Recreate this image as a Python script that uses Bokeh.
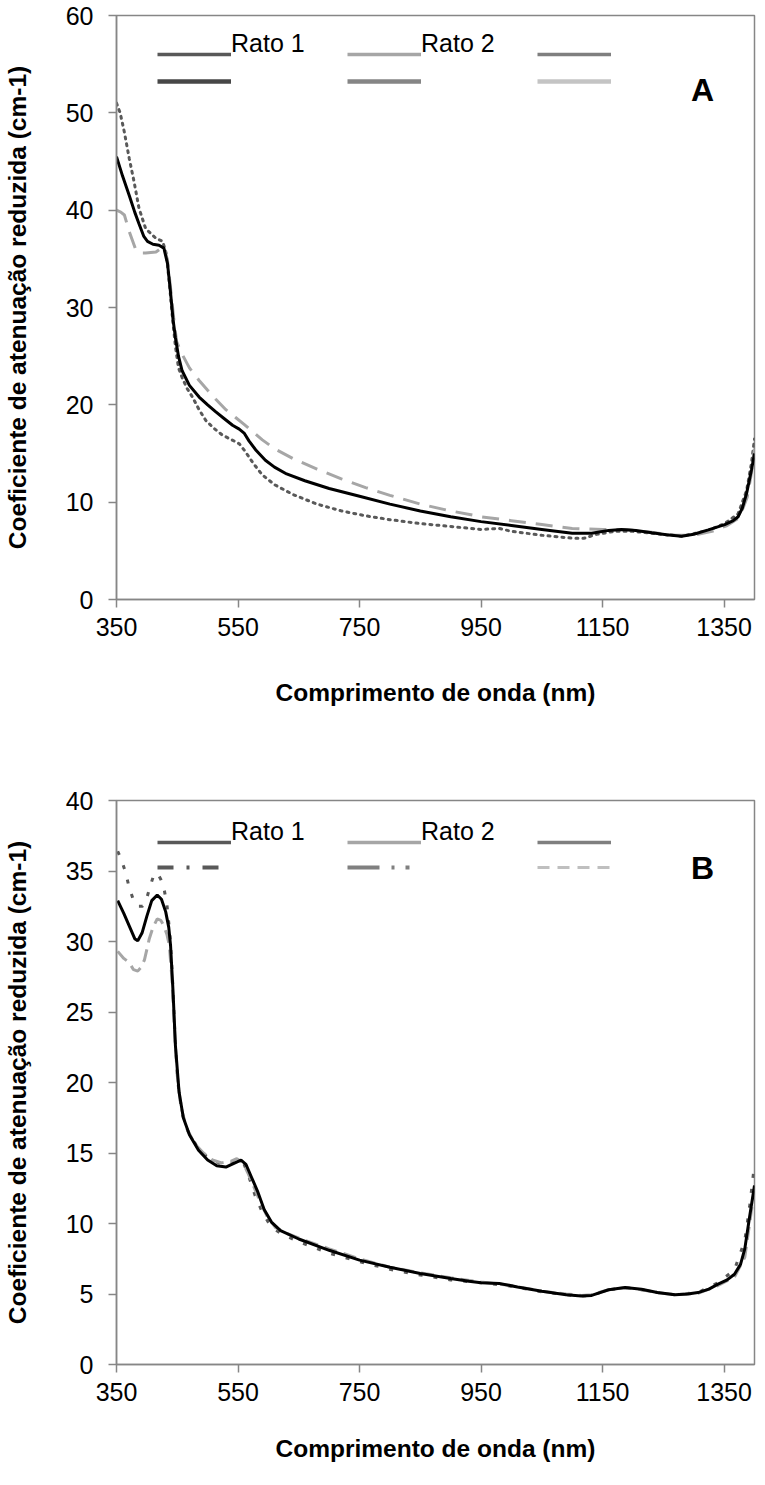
from bokeh.plotting import figure
from bokeh.models import Range1d, FixedTicker, Legend, LegendItem, Label
from bokeh.layouts import column
from bokeh.embed import file_html
from bokeh.resources import INLINE
from bokeh.core.properties import value

FONT = "Liberation Sans"
NAN = float("nan")

# ---------------- data : panel A ----------------
a_solid_x = [350, 360, 371, 380, 387, 395, 401, 410, 420, 428, 434, 439, 443, 447, 452, 458, 470, 486, 500, 513,
             527, 541, 552, 560, 568, 580, 595, 610, 630, 660, 700, 750, 800, 850, 900, 950, 1000, 1050, 1100,
             1132, 1160, 1181, 1205, 1231, 1255, 1280, 1300, 1324, 1351, 1365, 1373, 1380, 1387, 1395, 1400]
a_solid_y = [45.5, 43.5, 41.5, 39.8, 38.6, 37.3, 36.8, 36.5, 36.4, 36.1, 34.5, 31.5, 28.8, 26.9, 25.0, 23.5, 22.0,
             20.8, 20.0, 19.3, 18.6, 17.9, 17.5, 17.1, 16.3, 15.3, 14.3, 13.6, 12.9, 12.2, 11.4, 10.6, 9.8, 9.1,
             8.5, 8.0, 7.6, 7.2, 6.8, 6.8, 7.1, 7.2, 7.1, 6.85, 6.65, 6.5, 6.7, 7.15, 7.7, 8.1, 8.5, 9.4, 10.9,
             13.3, 15.0]

a_dot_x = [350, 356, 363, 371, 379, 387, 398, 415, 426, 432, 437, 442, 447, 452, 458, 466, 475, 486, 497, 510,
           524, 540, 552, 562, 575, 590, 610, 640, 680, 720, 760, 800, 850, 900, 950, 980, 1000, 1050, 1100,
           1120, 1140, 1170, 1200, 1231, 1280, 1324, 1351, 1373, 1387, 1395, 1400]
a_dot_y = [51.0, 50.0, 48.0, 45.3, 42.9, 40.2, 38.1, 37.1, 36.8, 35.5, 32.5, 29.0, 26.0, 23.8, 22.8, 21.7, 20.8,
           19.5, 18.4, 17.6, 16.9, 16.4, 16.0, 15.2, 14.0, 12.8, 11.8, 10.8, 9.8, 9.1, 8.6, 8.2, 7.8, 7.5, 7.2,
           7.3, 7.0, 6.6, 6.3, 6.3, 6.7, 7.0, 7.0, 6.8, 6.5, 7.1, 7.8, 8.8, 11.2, 14.0, 16.5]

a_dash_x = [350, 357, 363, 371, 382, 390, 398, 415, 428, 434, 439, 444, 449, 458, 470, 486, 500, 513, 530, 546,
            560, 575, 590, 610, 640, 680, 720, 760, 800, 850, 900, 950, 1000, 1050, 1100, 1150, 1190, 1230, 1270,
            1300, 1330, 1355, 1375, 1388, 1395, 1400]
a_dash_y = [40.0, 39.8, 39.5, 37.8, 35.9, 35.6, 35.6, 35.7, 36.3, 34.8, 32.0, 29.0, 26.5, 25.2, 23.8, 22.5, 21.5,
            20.6, 19.5, 18.7, 18.0, 17.2, 16.4, 15.5, 14.5, 13.4, 12.4, 11.5, 10.7, 9.8, 9.1, 8.5, 8.1, 7.7, 7.3,
            7.2, 7.2, 6.9, 6.6, 6.6, 7.0, 7.6, 8.4, 10.5, 13.0, 15.5]

# ---------------- data : panel B ----------------
b_solid_x = [352, 362, 372, 380, 385, 392, 400, 408, 417, 424, 431, 436, 439, 443, 447, 453, 460, 470, 485, 500,
             515, 530, 545, 555, 563, 572, 582, 593, 605, 620, 650, 700, 750, 800, 850, 900, 930, 950, 980, 1010,
             1050, 1090, 1115, 1132, 1160, 1187, 1214, 1240, 1269, 1290, 1307, 1325, 1340, 1355, 1367, 1377,
             1384, 1392, 1400]
b_solid_y = [32.9, 32.0, 31.0, 30.2, 30.05, 30.6, 31.8, 32.9, 33.3, 33.0, 32.1, 31.0, 29.7, 26.5, 22.6, 19.3, 17.5,
             16.3, 15.2, 14.5, 14.1, 14.0, 14.3, 14.5, 14.2, 13.3, 12.3, 11.0, 10.1, 9.5, 8.9, 8.1, 7.4, 6.9,
             6.45, 6.1, 5.9, 5.8, 5.75, 5.5, 5.2, 4.95, 4.85, 4.9, 5.3, 5.46, 5.34, 5.1, 4.94, 5.0, 5.1, 5.35,
             5.7, 6.0, 6.4, 7.1, 8.2, 10.5, 12.7]

b_dot_x = [352, 358, 365, 371, 379, 386, 393, 400, 406, 412, 418, 423, 428, 433, 438, 442, 446, 451, 458, 468,
           482, 497, 512, 527, 540, 552, 560, 568, 578, 590, 604, 620, 650, 700, 750, 800, 850, 900, 950, 1000,
           1050, 1090, 1115, 1132, 1160, 1187, 1214, 1240, 1269, 1307, 1340, 1367, 1384, 1392, 1400]
b_dot_y = [36.4, 35.8, 34.9, 33.8, 32.8, 32.5, 32.5, 33.1, 34.0, 34.8, 34.8, 34.4, 33.8, 32.6, 30.5, 27.5, 23.5,
           20.0, 17.8, 16.5, 15.5, 14.8, 14.4, 14.2, 14.3, 14.5, 14.2, 13.3, 12.0, 10.8, 9.8, 9.3, 8.7, 7.9,
           7.3, 6.75, 6.35, 6.0, 5.8, 5.55, 5.15, 4.95, 4.85, 4.9, 5.3, 5.45, 5.3, 5.1, 4.95, 5.1, 5.8, 6.7,
           8.8, 11.2, 14.2]

b_dash_x = [352, 362, 371, 378, 385, 391, 396, 404, 410, 417, 423, 428, 433, 437, 441, 445, 450, 456, 465, 478,
            493, 508, 523, 538, 548, 558, 566, 575, 586, 598, 612, 630, 660, 700, 750, 800, 850, 900, 950, 1000,
            1050, 1090, 1115, 1132, 1160, 1187, 1214, 1240, 1269, 1307, 1340, 1367, 1384, 1392, 1400]
b_dash_y = [29.3, 28.8, 28.5, 28.0, 27.9, 28.2, 28.7, 30.2, 31.0, 31.6, 31.5, 31.1, 30.5, 29.7, 27.5, 24.0, 20.5,
            18.3, 16.8, 15.7, 15.0, 14.5, 14.3, 14.4, 14.6, 14.3, 13.6, 12.7, 11.6, 10.5, 9.7, 9.3, 8.8, 8.2,
            7.5, 6.9, 6.5, 6.15, 5.85, 5.6, 5.2, 5.0, 4.9, 4.95, 5.3, 5.45, 5.3, 5.1, 4.95, 5.05, 5.6, 6.2,
            7.6, 10.0, 12.5]

x_ticks = [350, 550, 750, 950, 1150, 1350]
a_y_ticks = [0, 10, 20, 30, 40, 50, 60]
b_y_ticks = [0, 5, 10, 15, 20, 25, 30, 35, 40]
legend_labels = ["Rato 1", "Rato 2", ""]
x_title = "Comprimento de onda (nm)"
y_title = "Coeficiente de atenuação reduzida (cm-1)"

AXIS_GRAY = "#868686"


def add_legend_row(p, styles, labels, vy, alpha=1.0):
    items = []
    for (col, w, dash), lab in zip(styles, labels):
        r = p.line([NAN], [NAN], line_color=col, line_width=w, line_dash=dash, line_alpha=alpha)
        items.append(LegendItem(label=value(lab), renderers=[r]))
    leg = Legend(items=items, orientation="horizontal", location=(41, vy),
                 glyph_width=74, glyph_height=40, label_height=40, label_width=116,
                 label_standoff=0, spacing=0, padding=0, margin=0,
                 border_line_color=None, background_fill_alpha=0,
                 label_text_font=FONT, label_text_font_size="25px", label_text_color="black")
    p.add_layout(leg)


def make_panel(letter, ymax, yticks, series, dot_style, dash_style, row2_styles, height, b_top, b_bottom,
               frame_h, row1_off, row2_off, text_off, letter_vy, xtitle_standoff):
    p = figure(width=757, height=height, output_backend="svg", toolbar_location=None,
               x_range=Range1d(350, 1400), y_range=Range1d(0, ymax),
               min_border_left=116, min_border_right=3, min_border_top=b_top, min_border_bottom=b_bottom,
               background_fill_color="white", border_fill_color="white")
    p.outline_line_color = AXIS_GRAY
    p.outline_line_width = 1.5
    p.xgrid.visible = False
    p.ygrid.visible = False

    for ax, ticks in ((p.xaxis[0], x_ticks), (p.yaxis[0], yticks)):
        ax.ticker = FixedTicker(ticks=ticks)
        ax.axis_line_color = AXIS_GRAY
        ax.axis_line_width = 1.5
        ax.major_tick_line_color = AXIS_GRAY
        ax.major_tick_line_width = 1.5
        ax.major_tick_in = 0
        ax.major_tick_out = 8
        ax.minor_tick_line_color = None
        ax.major_label_text_font = FONT
        ax.major_label_text_font_size = "25px"
        ax.major_label_text_color = "black"
        ax.axis_label_text_font = FONT
        ax.axis_label_text_font_size = "24.5px"
        ax.axis_label_text_font_style = "bold"
        ax.axis_label_text_color = "black"
    p.xaxis.axis_label = x_title
    p.yaxis.axis_label = y_title
    p.xaxis.major_label_standoff = 10
    p.yaxis.major_label_standoff = 15
    p.xaxis.axis_label_standoff = xtitle_standoff
    p.yaxis.axis_label_standoff = 32

    # data curves
    (sx, sy), (dx, dy), (hx, hy) = series
    p.line(dx, dy, line_color="#595959", line_width=3, line_dash=dot_style[0], line_cap=dot_style[1])
    p.line(hx, hy, line_color="#a6a6a6", line_width=3, line_dash=dash_style)
    p.line(sx, sy, line_color="black", line_width=3)

    # legend (Excel-like, 2 rows x 3 columns; labels sit on top of the first-row lines)
    row1_styles = [("#595959", 3.5, "solid"), ("#a6a6a6", 3.5, "solid"), ("#7f7f7f", 3.5, "solid")]
    add_legend_row(p, row1_styles, ["", "", ""], frame_h - row1_off - 40)
    add_legend_row(p, row2_styles, ["", "", ""], frame_h - row2_off - 40)
    add_legend_row(p, row1_styles, legend_labels, frame_h - text_off - 40, alpha=0.0)

    p.add_layout(Label(x=586, y=letter_vy, x_units="screen", y_units="screen", text=letter,
                       text_font=FONT, text_font_size="32px", text_font_style="bold",
                       text_align="center", text_baseline="alphabetic", text_color="black"))
    return p


# panel A: frame y 23..607 on the page, panel B: frame y 808..1372
pA = make_panel("A", 60, a_y_ticks,
                ((a_solid_x, a_solid_y), (a_dot_x, a_dot_y), (a_dash_x, a_dash_y)),
                ("2 5", "round"), "17 10",
                [("#474747", 4.5, "solid"), ("#858585", 4.5, "solid"), ("#c4c4c4", 4.5, "solid")],
                height=752, b_top=15, b_bottom=153, frame_h=584,
                row1_off=19, row2_off=46, text_off=8, letter_vy=510, xtitle_standoff=40)
pB = make_panel("B", 40, b_y_ticks,
                ((b_solid_x, b_solid_y), (b_dot_x, b_dot_y), (b_dash_x, b_dash_y)),
                ("4 11", "butt"), "13 7",
                [("#595959", 4, "16 13 3 13 16 60"), ("#808080", 4, "32 12 3 11 4 60"), ("#bfbfbf", 3, "12 8")],
                height=717, b_top=48, b_bottom=105, frame_h=564,
                row1_off=22, row2_off=47, text_off=11, letter_vy=497, xtitle_standoff=31)

layout = column(pA, pB, spacing=0)
open("out.html", "w").write(file_html(layout, INLINE))
